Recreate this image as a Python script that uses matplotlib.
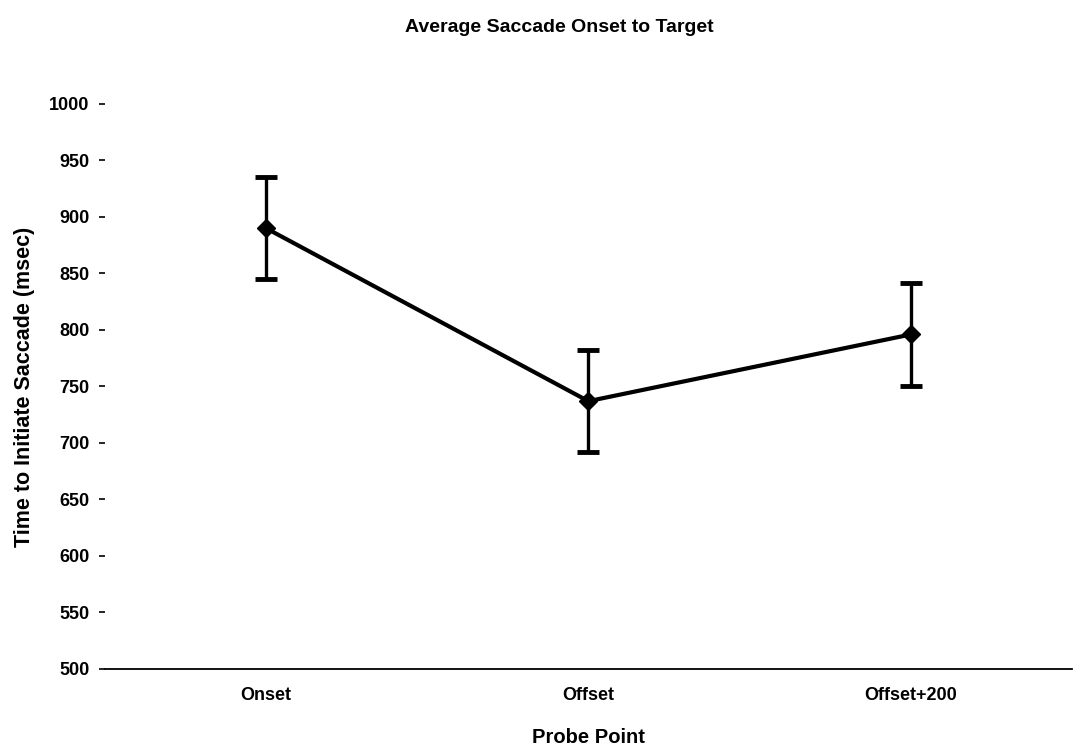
import numpy as np
from matplotlib import pyplot as plt

plt.rcParams['font.family'] = ['Liberation Sans', 'DejaVu Sans']

# data
probe_points = ['Onset', 'Offset', 'Offset+200']
mean_time = [890, 737, 796]
err_time = [45, 45, 46]


def main() -> None:
    fig = plt.figure(figsize=(10.75, 7.53), dpi=100)
    ax = fig.add_axes([0.0977, 0.1116, 0.8993, 0.7503])

    x = np.arange(len(probe_points))
    ax.errorbar(x, mean_time, yerr=err_time, color='black', linewidth=3,
                elinewidth=2.4, capsize=8, capthick=3.5,
                marker='D', markersize=9, markerfacecolor='black')

    ax.set_xlim(-0.5, 2.5)
    ax.set_ylim(500, 1000)
    ax.set_yticks(np.arange(500, 1001, 50))
    ax.set_xticks(x)
    ax.set_xticklabels(probe_points)

    for side in ['top', 'right', 'left']:
        ax.spines[side].set_visible(False)
    ax.spines['bottom'].set_linewidth(1.3)

    ax.tick_params(axis='x', length=0, pad=13, labelsize=13)
    ax.tick_params(axis='y', length=4, width=1.2, pad=7, labelsize=13)
    for lbl in ax.get_xticklabels() + ax.get_yticklabels():
        lbl.set_fontweight('bold')

    ax.set_xlabel('Probe Point', fontsize=14.5, fontweight='bold', labelpad=17)
    ax.set_ylabel('Time to Initiate Saccade (msec)', fontsize=15.5,
                  fontweight='bold', labelpad=10)
    fig.suptitle('Average Saccade Onset to Target', fontsize=14,
                 fontweight='bold', x=0.52, y=0.975)

    fig.savefig('out.png', dpi=100)
    plt.close()


if __name__ == '__main__':
    main()
